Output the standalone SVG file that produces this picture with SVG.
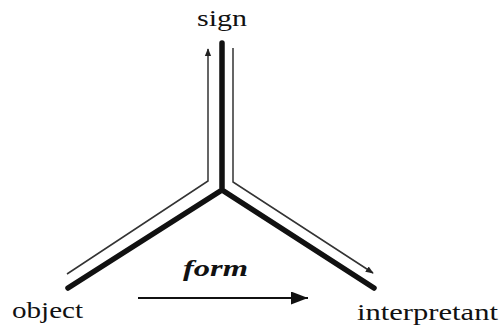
<svg xmlns="http://www.w3.org/2000/svg" width="501" height="329" viewBox="0 0 501 329">
<defs>
<style>
.lbl{font-family:"Liberation Serif","DejaVu Serif",serif;font-size:24px;fill:#111}
.thick{stroke:#111;stroke-width:5.5;fill:none;stroke-linecap:round;stroke-linejoin:miter}
.thin{stroke:#333;stroke-width:1.5;fill:none}
</style>
<marker id="ah" viewBox="0 0 10 10" refX="9" refY="5" markerWidth="8" markerHeight="8" markerUnits="userSpaceOnUse" orient="auto">
<path d="M0,1 L10,5 L0,9 Z" fill="#222"/>
</marker>
<marker id="ahb" viewBox="0 0 10 10" refX="10" refY="5" markerWidth="17" markerHeight="13" markerUnits="userSpaceOnUse" orient="auto" preserveAspectRatio="none">
<path d="M0,0 L10,5 L0,10 Z" fill="#111"/>
</marker>
</defs>
<g id="connectors">
<path class="thick" d="M222,43 L222,190 M68,288 L222,190 L374,288"/>
<path class="thin" d="M67,274 L208,181 L208,49" marker-end="url(#ah)"/>
<path class="thin" d="M233,48 L233,182 L373,273" marker-end="url(#ah)"/>
<path d="M138,298 L308,298" stroke="#111" stroke-width="2.2" marker-end="url(#ahb)"/>
</g>
<g id="sign"><text class="lbl" x="222" y="26" text-anchor="middle" textLength="50" lengthAdjust="spacingAndGlyphs">sign</text></g>
<g id="object"><text class="lbl" x="12" y="318" textLength="71" lengthAdjust="spacingAndGlyphs">object</text></g>
<g id="interpretant"><text class="lbl" x="357" y="320" textLength="141" lengthAdjust="spacingAndGlyphs">interpretant</text></g>
<g id="form"><text class="lbl" x="183" y="276" font-weight="bold" font-style="italic" textLength="65" lengthAdjust="spacingAndGlyphs">form</text></g>
</svg>
